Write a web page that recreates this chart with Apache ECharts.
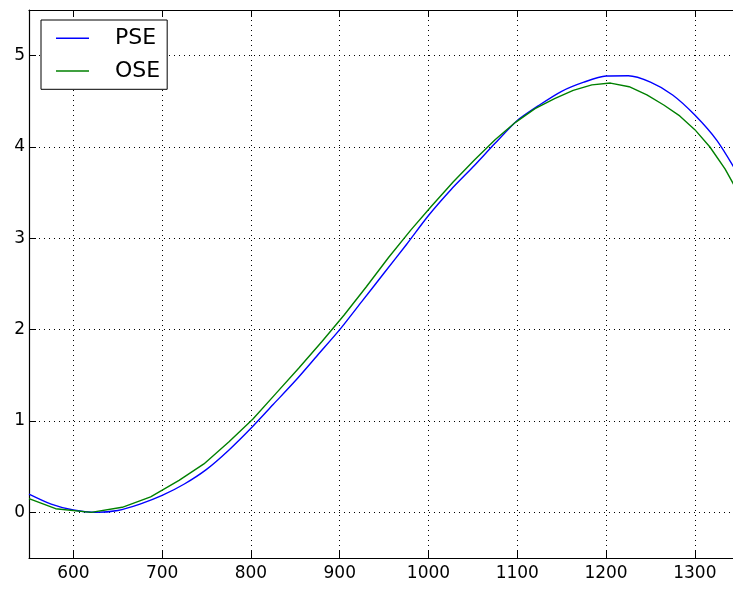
<!DOCTYPE html>
<html>
<head>
<meta charset="utf-8">
<script src="https://cdn.jsdelivr.net/npm/echarts@6/dist/echarts.min.js"></script>
<style>
html,body{margin:0;padding:0;background:#fff;}
#chart{width:733px;height:589px;}
</style>
</head>
<body>
<div id="chart"></div>
<script>
// PSE (blue)
const pseX = [550, 575, 600, 625, 650, 675, 700, 725, 750, 775, 800, 825, 850, 875, 900, 925, 950, 975, 1000, 1025, 1050, 1075, 1100, 1125, 1150, 1175, 1200, 1225, 1250, 1275, 1300, 1325, 1350];
const pseY = [0.20, 0.09, 0.025, 0.0, 0.02, 0.09, 0.185, 0.31, 0.47, 0.68, 0.92, 1.18, 1.44, 1.72, 2.00, 2.31, 2.62, 2.93, 3.25, 3.53, 3.78, 4.04, 4.29, 4.46, 4.61, 4.71, 4.777, 4.78, 4.71, 4.57, 4.35, 4.07, 3.68];
// OSE (green)
const oseX = [550, 580, 620, 655, 687, 719, 747, 775, 802, 828, 854, 880, 905, 930, 955, 980, 1004, 1028, 1052, 1075, 1098, 1120, 1142, 1163, 1184, 1205, 1226, 1246, 1265, 1283, 1300, 1317, 1334, 1350];
const oseY = [0.15, 0.04, 0.0, 0.055, 0.17, 0.35, 0.53, 0.77, 1.02, 1.30, 1.58, 1.87, 2.16, 2.47, 2.79, 3.09, 3.36, 3.62, 3.86, 4.08, 4.27, 4.42, 4.53, 4.62, 4.68, 4.70, 4.66, 4.57, 4.46, 4.34, 4.19, 4.00, 3.76, 3.48];
const seriesNames = ['PSE', 'OSE'];
const xRange = [550, 1343];
const yRange = [-0.5, 5.5];

const zip = (xs, ys) => xs.map((x, i) => [x, ys[i]]);
const font = 'DejaVu Sans';

const chart = echarts.init(document.getElementById('chart'), null, {renderer: 'canvas'});
const gridLine = {show: true, showMinLine: false, showMaxLine: false, lineStyle: {color: '#000', width: 1, type: [1, 4]}};
const baseX = {
  type: 'value', min: xRange[0], max: xRange[1], splitNumber: 8, minInterval: 100, maxInterval: 100,
  axisLine: {show: true, onZero: false, lineStyle: {color: '#000', width: 1.2}},
  axisTick: {show: true, inside: true, length: 7, lineStyle: {color: '#000', width: 1}}
};
chart.setOption({
  animation: false,
  backgroundColor: '#fff',
  grid: {left: 29, right: -2, top: 10, bottom: 31, containLabel: false},
  legend: {
    orient: 'vertical', left: 41, top: 20,
    data: seriesNames,
    icon: 'rect', itemWidth: 33, itemHeight: 1.5, itemGap: 10.7,
    padding: [7.3, 7, 7.3, 15],
    borderColor: '#000', borderWidth: 1, borderRadius: 0, backgroundColor: '#fff',
    textStyle: {fontFamily: font, fontSize: 22, color: '#000', lineHeight: 22, padding: [0, 0, 0, 21]},
    selectedMode: false
  },
  xAxis: [
    Object.assign({}, baseX, {
      position: 'bottom',
      axisLabel: {show: true, showMinLabel: false, showMaxLabel: false, margin: 7, fontFamily: font, fontSize: 17, color: '#000',
                  formatter: v => String(v)},
      splitLine: gridLine
    }),
    Object.assign({}, baseX, {
      position: 'top',
      axisLabel: {show: false},
      splitLine: {show: false}
    })
  ],
  yAxis: {
    type: 'value', min: yRange[0], max: yRange[1], splitNumber: 6, minInterval: 1, maxInterval: 1,
    axisLine: {show: true, onZero: false, lineStyle: {color: '#000', width: 1.2}},
    axisTick: {show: true, inside: true, length: 7, lineStyle: {color: '#000', width: 1}},
    axisLabel: {show: true, showMinLabel: false, showMaxLabel: false, margin: 4, fontFamily: font, fontSize: 17, color: '#000',
                formatter: v => String(v)},
    splitLine: gridLine
  },
  series: [
    {name: seriesNames[0], type: 'line', data: zip(pseX, pseY), showSymbol: false, symbol: 'none', smooth: 0.25,
     lineStyle: {color: '#0000ff', width: 1.4}, itemStyle: {color: '#0000ff'}, z: 3},
    {name: seriesNames[1], type: 'line', data: zip(oseX, oseY), showSymbol: false, symbol: 'none', smooth: false,
     lineStyle: {color: '#008000', width: 1.4}, itemStyle: {color: '#008000'}, z: 4}
  ]
});
</script>
</body>
</html>
